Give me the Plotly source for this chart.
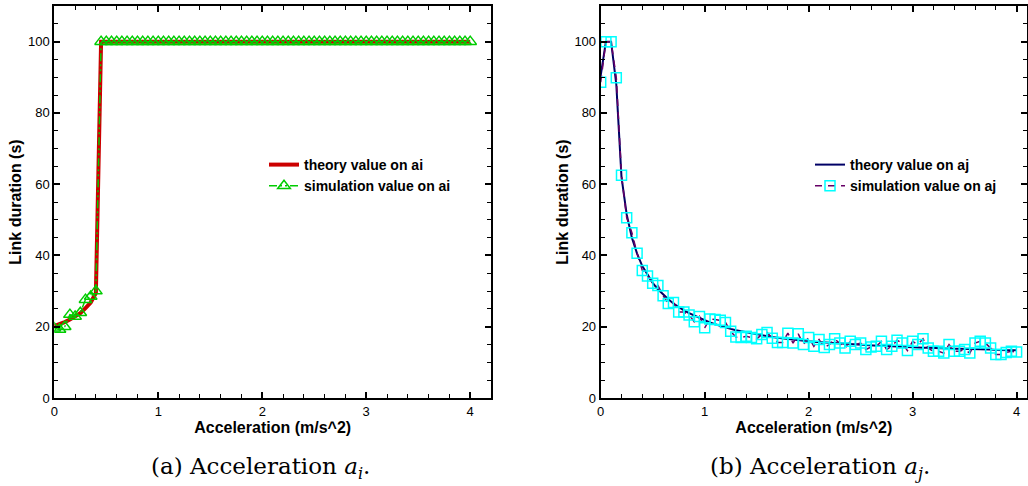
import plotly.graph_objects as go

# ---------------- data ----------------
accel = [0.0, 0.05, 0.1, 0.15, 0.2, 0.25, 0.3, 0.35, 0.4, 0.45,
         0.5, 0.55, 0.6, 0.65, 0.7, 0.75, 0.8, 0.85, 0.9, 0.95,
         1.0, 1.05, 1.1, 1.15, 1.2, 1.25, 1.3, 1.35, 1.4, 1.45,
         1.5, 1.55, 1.6, 1.65, 1.7, 1.75, 1.8, 1.85, 1.9, 1.95,
         2.0, 2.05, 2.1, 2.15, 2.2, 2.25, 2.3, 2.35, 2.4, 2.45,
         2.5, 2.55, 2.6, 2.65, 2.7, 2.75, 2.8, 2.85, 2.9, 2.95,
         3.0, 3.05, 3.1, 3.15, 3.2, 3.25, 3.3, 3.35, 3.4, 3.45,
         3.5, 3.55, 3.6, 3.65, 3.7, 3.75, 3.8, 3.85, 3.9, 3.95,
         4.0]

theory_ai = [20.2, 20.7, 21.3, 22.0, 22.8, 23.8, 25.2, 26.8, 29.5, 100,
             100, 100, 100, 100, 100, 100, 100, 100, 100, 100,
             100, 100, 100, 100, 100, 100, 100, 100, 100, 100,
             100, 100, 100, 100, 100, 100, 100, 100, 100, 100,
             100, 100, 100, 100, 100, 100, 100, 100, 100, 100,
             100, 100, 100, 100, 100, 100, 100, 100, 100, 100,
             100, 100, 100, 100, 100, 100, 100, 100, 100, 100,
             100, 100, 100, 100, 100, 100, 100, 100, 100, 100,
             100]

sim_ai = [19.6, 19.2, 20.0, 23.4, 22.9, 23.9, 27.6, 28.5, 30.0, 100,
          100, 100, 100, 100, 100, 100, 100, 100, 100, 100,
          100, 100, 100, 100, 100, 100, 100, 100, 100, 100,
          100, 100, 100, 100, 100, 100, 100, 100, 100, 100,
          100, 100, 100, 100, 100, 100, 100, 100, 100, 100,
          100, 100, 100, 100, 100, 100, 100, 100, 100, 100,
          100, 100, 100, 100, 100, 100, 100, 100, 100, 100,
          100, 100, 100, 100, 100, 100, 100, 100, 100, 100,
          100]

theory_aj = [90.5, 100, 100, 88.0, 62.0, 51.5, 45.0, 40.5, 37.0, 34.5,
             32.3, 30.5, 29.0, 27.7, 26.5, 25.5, 24.6, 23.8, 23.1, 22.4,
             21.8, 21.2, 20.7, 20.2, 19.8, 19.4, 19.0, 18.7, 18.4, 18.1,
             17.8, 17.6, 17.3, 17.1, 16.9, 16.7, 16.5, 16.4, 16.2, 16.1,
             15.9, 15.8, 15.7, 15.6, 15.5, 15.4, 15.3, 15.2, 15.1, 15.0,
             14.9, 14.8, 14.8, 14.7, 14.6, 14.6, 14.5, 14.4, 14.4, 14.3,
             14.3, 14.2, 14.1, 14.1, 14.0, 14.0, 13.9, 13.9, 13.8, 13.8,
             13.8, 13.7, 13.7, 13.6, 13.6, 13.6, 13.5, 13.5, 13.5, 13.4,
             13.4]

sim_aj = [88.6, 100, 100, 89.9, 62.5, 50.6, 46.4, 40.6, 35.8, 34.2,
          32.2, 31.6, 28.7, 26.5, 26.8, 24.1, 24.1, 23.3, 21.4, 22.9,
          19.7, 22.2, 22.0, 21.8, 21.2, 18.7, 17.1, 17.0, 17.3, 17.0,
          16.6, 17.8, 18.4, 16.8, 15.6, 15.6, 18.2, 15.4, 18.0, 15.0,
          17.0, 14.5, 16.4, 14.2, 15.0, 16.6, 15.4, 14.0, 15.9, 15.0,
          15.4, 13.6, 14.3, 14.5, 15.9, 13.6, 14.5, 16.2, 15.4, 13.3,
          15.9, 15.0, 16.6, 14.0, 13.1, 13.1, 12.6, 15.0, 13.1, 13.1,
          13.6, 12.6, 15.4, 15.9, 15.4, 14.0, 12.2, 12.2, 12.8, 13.1,
          12.9]

y_ticks = [0, 20, 40, 60, 80, 100]
x_ticks = [0, 1, 2, 3, 4]
x_title = "Acceleration (m/s^2)"
y_title = "Link duration (s)"
captions = ["(a) Acceleration <i>a</i><sub><i>i</i></sub>.",
            "(b) Acceleration <i>a</i><sub><i>j</i></sub>."]

# ---------------- figure ----------------
fig = go.Figure()

fig.add_trace(go.Scatter(
    x=accel, y=theory_ai, mode="lines", name="theory value on ai",
    line=dict(color="#cc0000", width=4), xaxis="x", yaxis="y", legend="legend"))
fig.add_trace(go.Scatter(
    x=accel, y=sim_ai, mode="lines+markers", name="simulation value on ai",
    line=dict(color="#00cc00", width=1.5, dash="8px,3px,2px,3px,2px,3px"),
    marker=dict(symbol="triangle-up-open", size=11, color="#00cc00",
                line=dict(width=1.5, color="#00cc00")),
    xaxis="x", yaxis="y", legend="legend"))

fig.add_trace(go.Scatter(
    x=accel, y=theory_aj, mode="lines", name="theory value on aj",
    line=dict(color="#000066", width=2), xaxis="x2", yaxis="y2", legend="legend2"))
fig.add_trace(go.Scatter(
    x=accel, y=sim_aj, mode="lines+markers", name="simulation value on aj",
    line=dict(color="#660066", width=1.5, dash="7px,6px"),
    marker=dict(symbol="square-open", size=10, color="#00ffff",
                line=dict(width=1.5, color="#00ffff")),
    xaxis="x2", yaxis="y2", legend="legend2"))

W, H = 1028, 486
font_axis = "Liberation Sans, Arial, sans-serif"

def xaxis(domain, rng, anchor):
    return dict(domain=domain, range=rng, anchor=anchor, automargin=False,
                showline=True, linecolor="black", linewidth=2, mirror="allticks",
                ticks="inside", ticklen=6, tickwidth=2, tickcolor="black",
                tickvals=x_ticks, showgrid=False, zeroline=False,
                tickfont=dict(family=font_axis, size=13, color="black"),
                minor=dict(dtick=0.2, ticks="inside", ticklen=4, tickwidth=1.2,
                           tickcolor="black", showgrid=False),
                title=dict(text="<b>" + x_title + "</b>", standoff=0,
                           font=dict(family=font_axis, size=16, color="black")))

def yaxis(domain, anchor):
    return dict(domain=domain, range=[0, 110], anchor=anchor, automargin=False,
                showline=True, linecolor="black", linewidth=2, mirror="allticks",
                ticks="inside", ticklen=6, tickwidth=2, tickcolor="black",
                tickvals=y_ticks, showgrid=False, zeroline=False,
                tickfont=dict(family=font_axis, size=13, color="black"),
                minor=dict(dtick=5, ticks="inside", ticklen=4, tickwidth=1.2,
                           tickcolor="black", showgrid=False),
                title=dict(text="<b>" + y_title + "</b>", standoff=2,
                           font=dict(family=font_axis, size=16, color="black")))

ydom = [88 / H, 480 / H]
fig.update_layout(
    width=W, height=H,
    margin=dict(l=0, r=0, t=0, b=0, autoexpand=False),
    paper_bgcolor="white", plot_bgcolor="white",
    xaxis=xaxis([54.3 / W, 491 / W], [0, 4.2], "y"),
    yaxis=yaxis(ydom, "x"),
    xaxis2=xaxis([600.7 / W, 1027 / W], [0, 4.1], "y2"),
    yaxis2=yaxis(ydom, "x2"),
    legend=dict(x=264 / W, y=1 - 149 / H, xanchor="left", yanchor="top",
                bgcolor="rgba(0,0,0,0)", borderwidth=0,
                font=dict(family=font_axis, size=14, color="black", weight="bold")),
    legend2=dict(x=810 / W, y=1 - 149 / H, xanchor="left", yanchor="top",
                 bgcolor="rgba(0,0,0,0)", borderwidth=0,
                 font=dict(family=font_axis, size=14, color="black", weight="bold")),
    showlegend=True,
)

for cap, cx in zip(captions, [260, 820]):
    fig.add_annotation(text=cap, xref="paper", yref="paper",
                       x=cx / W, y=1 - 468 / H, xanchor="center", yanchor="middle",
                       showarrow=False,
                       font=dict(family="DejaVu Serif, serif", size=23, color="black"))

fig.write_html("out.html",
               config={"displayModeBar": False},
               post_script="document.body.style.margin='0px';")
